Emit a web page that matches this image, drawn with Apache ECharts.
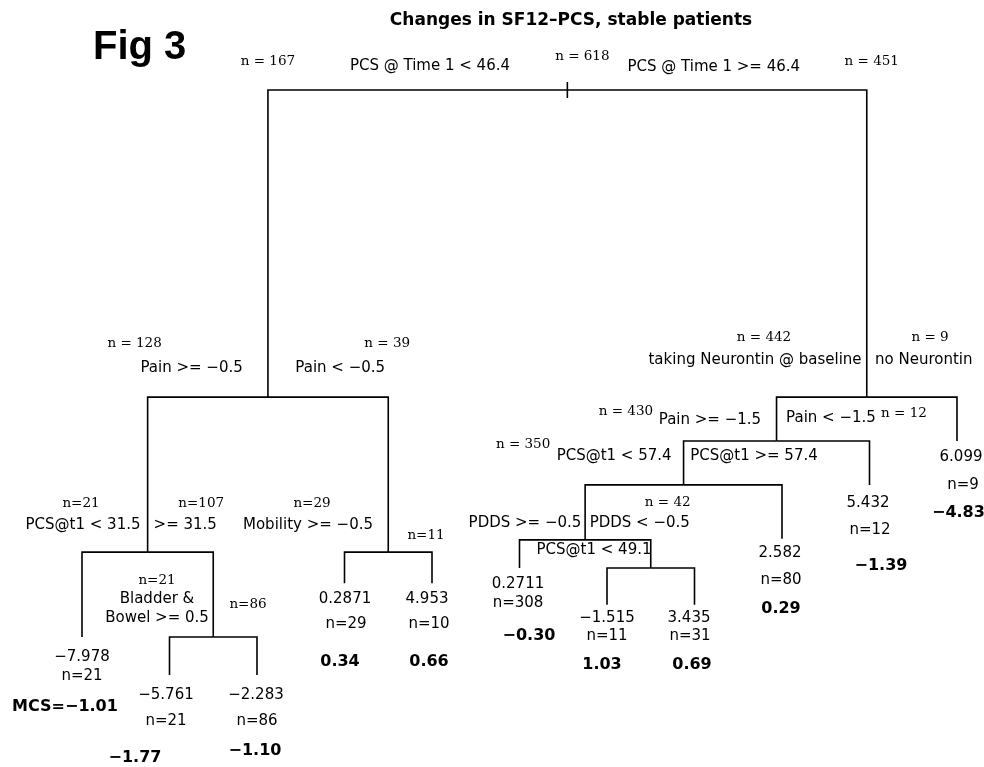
<!DOCTYPE html>
<html>
<head>
<meta charset="utf-8">
<script src="https://cdn.jsdelivr.net/npm/echarts@6/dist/echarts.min.js"></script>
<style>
html,body{margin:0;padding:0;background:#fff;}
#chart{width:984px;height:767px;}
</style>
</head>
<body>
<div id="chart"></div>
<script>
// ---------------- DATA ----------------
const chartTitle = 'Changes in SF12\u2013PCS, stable patients';
const figLabel = 'Fig 3';

// tree structure: parent index of each node (children listed left to right by index)
const nodeParent = [-1, 0, 1, 2, 2, 4, 4, 1, 7, 7, 0, 10, 11, 12, 13, 13, 15, 15, 12, 11, 10];
// plotted height of each node (deviance-type scale, root = 100)
const nodeHeight = [100, 47.5, 21.0, 6.5, 6.5, 0, 0, 21.0, 15.7, 15.7, 47.5, 40.0, 32.5, 23.1, 18.3, 18.3, 12.0, 12.0, 23.3, 32.5, 40.0];
// split condition leading into each node
const splitLabels = [
  '', 'PCS @ Time 1 < 46.4', 'Pain >= \u22120.5', 'PCS@t1 < 31.5', '>= 31.5',
  'Bladder &\nBowel >= 0.5', '', 'Pain < \u22120.5', 'Mobility >= \u22120.5', '',
  'PCS @ Time 1 >= 46.4', 'taking Neurontin @ baseline', 'Pain >= \u22121.5', 'PCS@t1 < 57.4',
  'PDDS >= \u22120.5', 'PDDS < \u22120.5', 'PCS@t1 < 49.1', '', 'PCS@t1 >= 57.4',
  'Pain < \u22121.5', 'no Neurontin'
];
// n shown above each split
const nodeN = [618, 167, 128, 21, 107, 21, 86, 39, 29, 11, 451, 442, 430, 350, null, 42, null, null, null, 12, 9];
// leaf values: mean change in PCS, n in leaf, mean change in MCS
const leafMean = [null, null, null, -7.978, null, -5.761, -2.283, null, 0.2871, 4.953, null, null, null, null, 0.2711, null, -1.515, 3.435, 2.582, 5.432, 6.099];
const leafN    = [null, null, null, 21, null, 21, 86, null, 29, 10, null, null, null, null, 308, null, 11, 31, 80, 12, 9];
const leafMCS  = [null, null, null, -1.01, null, -1.77, -1.10, null, 0.34, 0.66, null, null, null, null, -0.30, null, 1.03, 0.69, 0.29, -1.39, -4.83];

// ---------------- LAYOUT (pixel offsets of labels around nodes) ----------------
const LAYOUT = {
  0:  {nTop: [15, -34]},
  1:  {nTop: [0, -29],  split: [162, -24]},
  2:  {nTop: [-13, -54], split: [44, -29]},
  3:  {nTop: [-1, -49], compact: true, split: [1, -27], mean: [0, 20], leafN: [0, 39], mcs: [-17, 70], mcsPrefix: 'MCS='},
  4:  {nTop: [-12, -49], compact: true, split: [-28, -27]},
  5:  {nTop: [-12.5, -56], compact: true, split: [-12.5, -28.5], mean: [-3.5, 20], leafN: [-3.5, 46], mcs: [-34.5, 83]},
  6:  {nTop: [-9, -32], compact: true, mean: [-1, 20], leafN: [0, 46], mcs: [-2, 76]},
  7:  {nTop: [-1, -54], split: [-48, -29]},
  8:  {nTop: [-32.5, -49], compact: true, split: [-36.5, -27], mean: [0.5, 16], leafN: [1.5, 41], mcs: [-4.5, 79]},
  9:  {nTop: [-6, -17], compact: true, mean: [-5, 16], leafN: [-3, 41], mcs: [-3, 79]},
  10: {nTop: [5, -29], split: [-153, -23]},
  11: {nTop: [-12.5, -60], split: [-21.5, -37]},
  12: {nTop: [-57.6, -30], split: [26.4, -21]},
  13: {nTop: [-62, -40], split: [29, -29]},
  14: {split: [5.5, -17], mean: [-1.5, 16], leafN: [-1.5, 35], mcs: [9.5, 68]},
  15: {nTop: [17, -37], split: [-11, -17]},
  16: {split: [-13, -18], mean: [0, 13], leafN: [0, 31], mcs: [-5, 60]},
  17: {mean: [-5.5, 13], leafN: [-4.5, 31], mcs: [-2.5, 60]},
  18: {split: [-28, -29], mean: [-2, 14], leafN: [-1, 41], mcs: [-1, 70]},
  19: {nTop: [34.5, -28], split: [-38.5, -23], mean: [-1.5, 18], leafN: [0.5, 45], mcs: [11.5, 81]},
  20: {nTop: [-27, -60], split: [-82, -37], splitAlign: 'left', mean: [4, 16], leafN: [6, 44], mcs: [-25, 72], mcsAlign: 'left'}
};

const FONT_SERIF = {fontFamily: 'DejaVu Serif', fontSize: 13.5, fontWeight: 'normal'};
const FONT_SANS  = {fontFamily: 'DejaVu Sans', fontSize: 15, fontWeight: 'normal'};
const FONT_BOLD  = {fontFamily: 'DejaVu Sans', fontSize: 16, fontWeight: 'bold'};

// ---------------- derived tree geometry (in data units) ----------------
const children = nodeParent.map(() => []);
nodeParent.forEach((p, i) => { if (p >= 0) children[p].push(i); });
const nodeX = new Array(nodeParent.length);
let leafCounter = 0;
(function place(i) {
  if (children[i].length === 0) { leafCounter += 1; nodeX[i] = leafCounter; return; }
  children[i].forEach(place);
  nodeX[i] = children[i].reduce((s, c) => s + nodeX[c], 0) / children[i].length;
})(0);

const edges = [];
nodeParent.forEach((p, i) => { if (p >= 0) edges.push([nodeX[i], nodeHeight[i], nodeX[p], nodeHeight[p]]); });

function fmtNum(v) { return String(v).replace('-', '\u2212'); }
function fmtFixed(v) { return v.toFixed(2).replace('-', '\u2212'); }

const labels = [];
nodeParent.forEach((p, i) => {
  const L = LAYOUT[i] || {};
  const topY = p >= 0 ? nodeHeight[p] : nodeHeight[i];
  if (L.nTop && nodeN[i] != null) {
    labels.push({x: nodeX[i], y: topY, off: L.nTop, text: L.compact ? 'n=' + nodeN[i] : 'n = ' + nodeN[i], font: FONT_SERIF, align: 'center'});
  }
  if (L.split && splitLabels[i]) {
    labels.push({x: nodeX[i], y: topY, off: L.split, text: splitLabels[i], font: FONT_SANS, align: L.splitAlign || 'center'});
  }
  if (L.mean && leafMean[i] != null) {
    labels.push({x: nodeX[i], y: nodeHeight[i], off: L.mean, text: fmtNum(leafMean[i]), font: FONT_SANS, align: 'center'});
  }
  if (L.leafN && leafN[i] != null) {
    labels.push({x: nodeX[i], y: nodeHeight[i], off: L.leafN, text: 'n=' + leafN[i], font: FONT_SANS, align: 'center'});
  }
  if (L.mcs && leafMCS[i] != null) {
    labels.push({x: nodeX[i], y: nodeHeight[i], off: L.mcs, text: (L.mcsPrefix || '') + fmtFixed(leafMCS[i]), font: FONT_BOLD, align: L.mcsAlign || 'center'});
  }
});

// ---------------- CHART ----------------
const chart = echarts.init(document.getElementById('chart'), null, {renderer: 'canvas'});
const LINE = {stroke: '#000', lineWidth: 1.6, fill: null, lineJoin: 'miter'};

chart.setOption({
  animation: false,
  backgroundColor: '#fff',
  title: [
    {text: chartTitle, left: 571, top: 12, textAlign: 'center', padding: 0,
     textStyle: {fontFamily: 'DejaVu Sans', fontWeight: 'bold', fontSize: 17, color: '#000'}},
    {text: figLabel, left: 93, top: 28, padding: 0,
     textStyle: {fontFamily: 'Liberation Sans', fontWeight: 'bold', fontSize: 40, color: '#000'}}
  ],
  grid: {left: 82, right: 27, top: 90, bottom: 92},
  xAxis: {type: 'value', min: 1, max: 11, show: false},
  yAxis: {type: 'value', min: 0, max: 100, show: false},
  series: [
    {
      type: 'custom', coordinateSystem: 'cartesian2d', silent: true, clip: false, z: 3,
      data: edges,
      renderItem: function (params, api) {
        const a = api.coord([api.value(0), api.value(1)]);
        const b = api.coord([api.value(2), api.value(3)]);
        return {type: 'polyline', shape: {points: [[a[0], a[1]], [a[0], b[1]], [b[0], b[1]]]}, style: LINE};
      }
    },
    {
      type: 'custom', coordinateSystem: 'cartesian2d', silent: true, clip: false, z: 3,
      data: [[nodeX[0], nodeHeight[0]]],
      renderItem: function (params, api) {
        const a = api.coord([api.value(0), api.value(1)]);
        return {type: 'line', shape: {x1: a[0], y1: a[1] - 8, x2: a[0], y2: a[1] + 8}, style: LINE};
      }
    },
    {
      type: 'custom', coordinateSystem: 'cartesian2d', silent: true, clip: false, z: 2,
      data: labels.map(l => [l.x, l.y]),
      renderItem: function (params, api) {
        const l = labels[params.dataIndex];
        const a = api.coord([api.value(0), api.value(1)]);
        return {
          type: 'text', x: a[0] + l.off[0], y: a[1] + l.off[1],
          style: {
            text: l.text, fill: '#000',
            fontFamily: l.font.fontFamily, fontSize: l.font.fontSize, fontWeight: l.font.fontWeight,
            align: l.align, verticalAlign: 'middle', lineHeight: 19
          }
        };
      }
    }
  ]
});
</script>
</body>
</html>
